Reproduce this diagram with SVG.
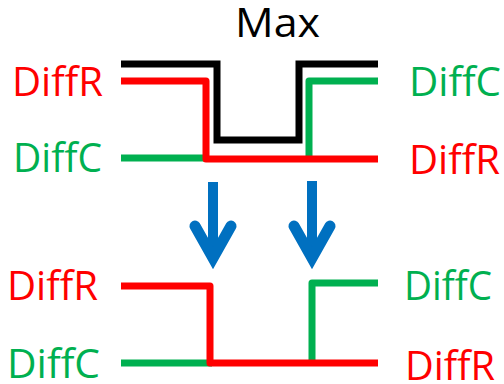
<svg xmlns="http://www.w3.org/2000/svg" width="504" height="384" viewBox="0 0 504 384">
<style>
.t{font-family:"Open Sans","Liberation Sans",sans-serif;font-size:40px}
.r{fill:#FF0000}.g{fill:#00B050}.k{fill:#000000}
.w{fill:none;stroke-width:7}
.wr{stroke:#FF0000;stroke-linejoin:round}.wg{stroke:#00B050;stroke-linejoin:round}.wk{stroke:#000000;stroke-linejoin:miter}
.ar{fill:none;stroke:#0070C0;stroke-width:11;stroke-linecap:round;stroke-linejoin:miter;stroke-miterlimit:10}
.sh{fill:none;stroke:#0070C0;stroke-width:10}
</style>
<g id="labels">
<text class="t k" x="235" y="37" textLength="85" lengthAdjust="spacingAndGlyphs">Max</text>
<text class="t r" x="12" y="96" textLength="91" lengthAdjust="spacingAndGlyphs">DiffR</text>
<text class="t g" x="13" y="172" textLength="89" lengthAdjust="spacingAndGlyphs">DiffC</text>
<text class="t g" x="409" y="96" textLength="92" lengthAdjust="spacingAndGlyphs">DiffC</text>
<text class="t r" x="409" y="174" textLength="91" lengthAdjust="spacingAndGlyphs">DiffR</text>
<text class="t r" x="7" y="300" textLength="91" lengthAdjust="spacingAndGlyphs">DiffR</text>
<text class="t g" x="7" y="378" textLength="93" lengthAdjust="spacingAndGlyphs">DiffC</text>
<text class="t g" x="404" y="300" textLength="88" lengthAdjust="spacingAndGlyphs">DiffC</text>
<text class="t r" x="405" y="380" textLength="90" lengthAdjust="spacingAndGlyphs">DiffR</text>
</g>
<g id="connectors">
<g id="top">
<path class="w wk" d="M121 64H217V140H299V64H378"/>
<path class="w wg" d="M121 158H206"/>
<path class="w wg" d="M309 158V81H378"/>
<path class="w wr" d="M121 81H206V159H378"/>
</g>
<g id="arrows">
<path class="sh" d="M213 182V255"/>
<path class="ar" d="M195 226L213 258L231 226"/>
<path class="sh" d="M312 181V255"/>
<path class="ar" d="M294 226L312 258L330 226"/>
</g>
<g id="bottom">
<path class="w wg" d="M121 363H212"/>
<path class="w wg" d="M312 363V283H378"/>
<path class="w wr" d="M121 286H210V363H378"/>
</g>
</g>
</svg>
